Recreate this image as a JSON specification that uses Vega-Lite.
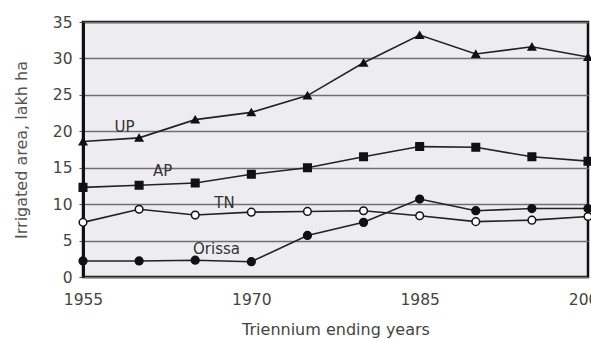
{
  "$schema": "https://vega.github.io/schema/vega-lite/v6.json",
  "width": 505,
  "height": 255,
  "autosize": "none",
  "padding": {"left": 83, "top": 22, "right": 3, "bottom": 64},
  "background": "white",
  "config": {
    "view": {"fill": "#ededf1", "stroke": "#111", "strokeWidth": 2.5},
    "font": "DejaVu Sans"
  },
  "datasets": {
    "series": [
      {"state": "UP", "year": 1955, "value": 18.6},
      {"state": "UP", "year": 1960, "value": 19.1},
      {"state": "UP", "year": 1965, "value": 21.6},
      {"state": "UP", "year": 1970, "value": 22.6},
      {"state": "UP", "year": 1975, "value": 24.9},
      {"state": "UP", "year": 1980, "value": 29.4},
      {"state": "UP", "year": 1985, "value": 33.2},
      {"state": "UP", "year": 1990, "value": 30.6},
      {"state": "UP", "year": 1995, "value": 31.6},
      {"state": "UP", "year": 2000, "value": 30.2},
      {"state": "AP", "year": 1955, "value": 12.3},
      {"state": "AP", "year": 1960, "value": 12.6},
      {"state": "AP", "year": 1965, "value": 12.9},
      {"state": "AP", "year": 1970, "value": 14.1},
      {"state": "AP", "year": 1975, "value": 15.0},
      {"state": "AP", "year": 1980, "value": 16.5},
      {"state": "AP", "year": 1985, "value": 17.9},
      {"state": "AP", "year": 1990, "value": 17.8},
      {"state": "AP", "year": 1995, "value": 16.5},
      {"state": "AP", "year": 2000, "value": 15.9},
      {"state": "TN", "year": 1955, "value": 7.5},
      {"state": "TN", "year": 1960, "value": 9.3},
      {"state": "TN", "year": 1965, "value": 8.5},
      {"state": "TN", "year": 1970, "value": 8.9},
      {"state": "TN", "year": 1975, "value": 9.0},
      {"state": "TN", "year": 1980, "value": 9.1},
      {"state": "TN", "year": 1985, "value": 8.4},
      {"state": "TN", "year": 1990, "value": 7.6},
      {"state": "TN", "year": 1995, "value": 7.8},
      {"state": "TN", "year": 2000, "value": 8.3},
      {"state": "Orissa", "year": 1955, "value": 2.2},
      {"state": "Orissa", "year": 1960, "value": 2.2},
      {"state": "Orissa", "year": 1965, "value": 2.3},
      {"state": "Orissa", "year": 1970, "value": 2.1},
      {"state": "Orissa", "year": 1975, "value": 5.7},
      {"state": "Orissa", "year": 1980, "value": 7.5},
      {"state": "Orissa", "year": 1985, "value": 10.7},
      {"state": "Orissa", "year": 1990, "value": 9.1},
      {"state": "Orissa", "year": 1995, "value": 9.4},
      {"state": "Orissa", "year": 2000, "value": 9.4}
    ],
    "labels": [
      {"label": "UP", "year": 1958.7, "value": 20.6},
      {"label": "AP", "year": 1962.1, "value": 14.5},
      {"label": "TN", "year": 1967.6, "value": 10.2},
      {"label": "Orissa", "year": 1966.9, "value": 3.8}
    ]
  },
  "encoding": {
    "x": {
      "field": "year", "type": "quantitative",
      "scale": {"domain": [1955, 2000], "nice": false, "zero": false},
      "axis": {
        "values": [1955, 1970, 1985, 2000], "format": "d",
        "title": "Triennium ending years",
        "titleFont": "DejaVu Sans", "titleFontSize": 16, "titleFontWeight": "normal",
        "titleColor": "#444", "titlePadding": 14,
        "labelFont": "DejaVu Sans", "labelFontSize": 15.5, "labelColor": "#444", "labelPadding": 15,
        "grid": false, "domain": false, "ticks": false,
        "labelFlush": false
      }
    },
    "y": {
      "field": "value", "type": "quantitative",
      "scale": {"domain": [0, 35], "nice": false},
      "axis": {
        "values": [0, 5, 10, 15, 20, 25, 30, 35],
        "title": "Irrigated area, lakh ha",
        "titleFont": "DejaVu Sans", "titleFontSize": 16, "titleFontWeight": "normal",
        "titleColor": "#555", "titlePadding": 23,
        "labelFont": "DejaVu Sans", "labelFontSize": 15.5, "labelColor": "#444", "labelPadding": 7,
        "grid": true, "gridColor": "#707070", "gridWidth": 1.3, "gridOpacity": 1,
        "domain": true, "domainColor": "#111", "domainWidth": 3,
        "ticks": true, "tickSize": 4, "tickColor": "#555"
      }
    }
  },
  "layer": [
    {
      "data": {"name": "series"},
      "mark": {"type": "line", "color": "#222", "strokeWidth": 1.6},
      "encoding": {"detail": {"field": "state"}}
    },
    {
      "data": {"name": "series"},
      "mark": {"type": "point", "filled": false, "stroke": "#111", "strokeWidth": 1.5, "opacity": 1},
      "encoding": {
        "shape": {
          "field": "state", "type": "nominal",
          "scale": {"domain": ["UP", "AP", "TN", "Orissa"], "range": ["triangle-up", "square", "circle", "circle"]},
          "legend": null
        },
        "fill": {
          "field": "state", "type": "nominal",
          "scale": {"domain": ["UP", "AP", "TN", "Orissa"], "range": ["#111", "#111", "#ffffff", "#111"]},
          "legend": null
        },
        "size": {
          "field": "state", "type": "nominal",
          "scale": {"domain": ["UP", "AP", "TN", "Orissa"], "range": [55, 60, 45, 65]},
          "legend": null
        }
      }
    },
    {
      "data": {"name": "labels"},
      "mark": {"type": "text", "fontSize": 15, "color": "#333", "font": "DejaVu Sans"},
      "encoding": {"text": {"field": "label"}}
    }
  ]
}
